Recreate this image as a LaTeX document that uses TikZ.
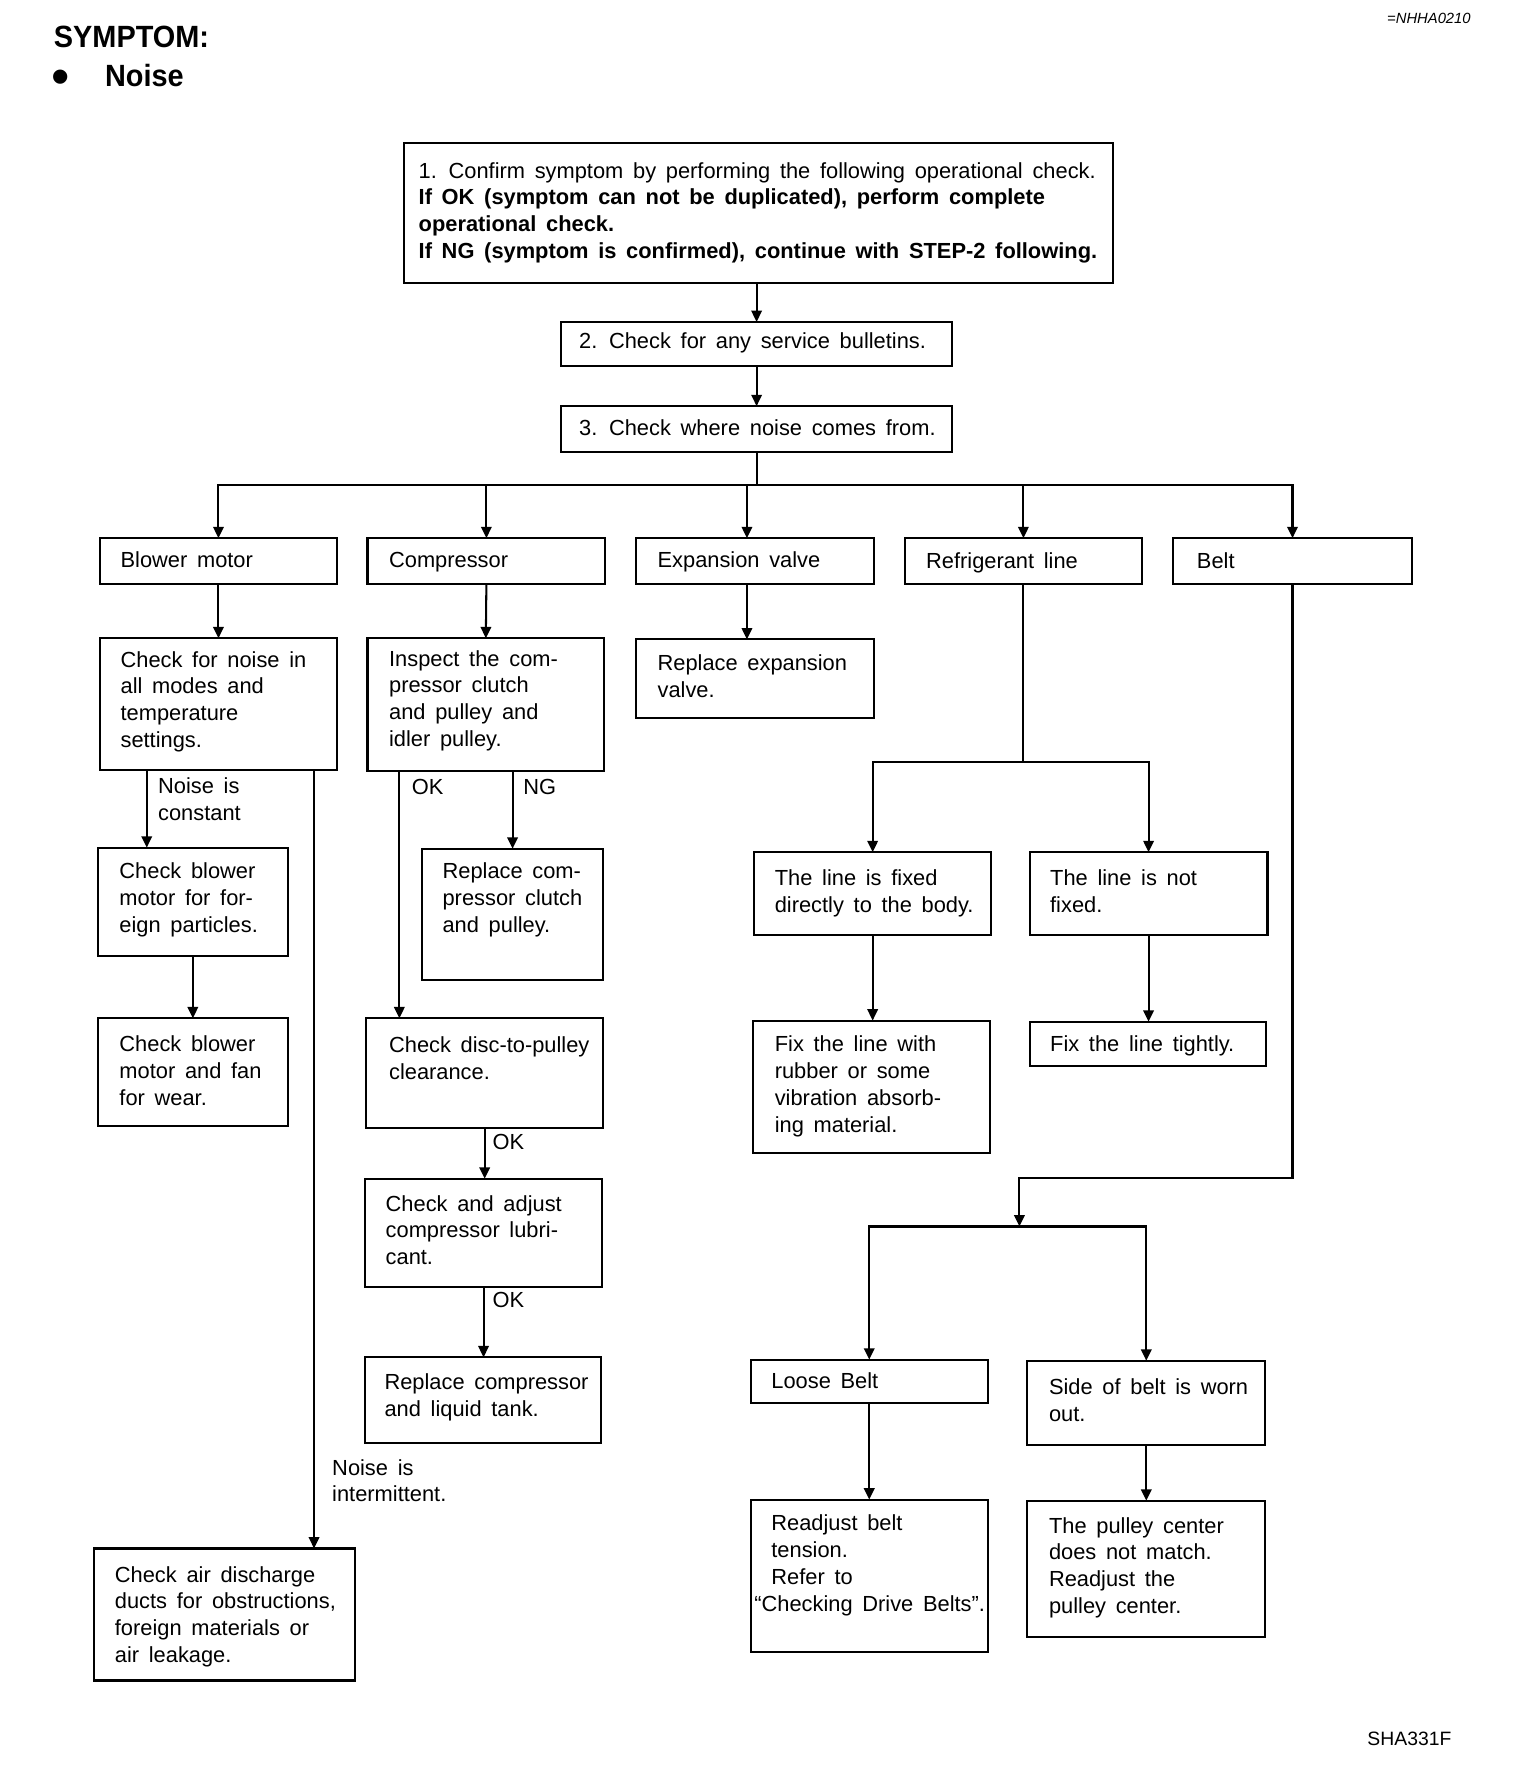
\documentclass[tikz,border=0pt]{standalone}
\usepackage{fontspec}
\setmainfont{Liberation Sans}[WordSpace=1.6]
\newfontfamily\hdfont{Liberation Sans}[FakeStretch=0.94]
\usetikzlibrary{arrows.meta,calc}
\newcommand\bodyfont{\fontsize{9.6}{11.75}\selectfont}
\tikzset{
 boxst/.style={draw, rectangle, inner sep=0pt, outer sep=0pt, line width=0.9pt},
 txt/.style={anchor=north west, inner sep=0pt, outer sep=0pt, align=left, font=\bodyfont},
 arr/.style={line width=0.9pt, -{Triangle[length=5pt,width=4.6pt]}},
 ln/.style={line width=0.9pt},
}
\newcommand\mybox[8]{%
 \node[boxst, minimum width={(#4-#2)*0.5pt}, minimum height={(#5-#3)*0.5pt}] (#1) at ({(#2+#4)/2},{(#3+#5)/2}) {};
 \node[txt] (#1t) at (#6,{#7-10}) {\strut #8};}
\newcommand\lbl[4]{\node[txt] (#1) at (#2,{#3-10}) {\strut #4};}
\begin{document}
\begin{tikzpicture}[x=0.5pt,y=-0.5pt]
\path[use as bounding box, fill=white] (0,0) rectangle (1336,1568);
% headers
\node[anchor=base west, inner sep=0pt, font=\hdfont\fontsize{13.5}{16}\selectfont\bfseries] (hd) at (47,42) {SYMPTOM:};
\node[anchor=base west, inner sep=0pt, font=\fontsize{23}{26}\selectfont] (bul) at (45,83) {•};
\node[anchor=base west, inner sep=0pt, font=\hdfont\fontsize{13.5}{16}\selectfont\bfseries] (hn) at (92,76) {Noise};
\node[anchor=base east, inner sep=0pt, font=\fontsize{6.5}{8}\selectfont\itshape] (code) at (1293,21) {=NHHA0210};
\node[anchor=base east, inner sep=0pt, font=\fontsize{8.5}{10}\selectfont] (sha) at (1276,1534) {SHA331F};
% boxes
\mybox{b1}{355}{126}{978}{249}{368}{150}{1. Confirm symptom by performing the following operational check.\\ \textbf{If OK (symptom can not be duplicated), perform complete}\\ \textbf{operational check.}\\ \textbf{If NG (symptom is confirmed), continue with STEP-2 following.}}
\mybox{b2}{493}{283}{837}{322}{509}{300}{2. Check for any service bulletins.}
\mybox{b3}{493}{357}{837}{397}{509}{376}{3. Check where noise comes from.}
\mybox{bm}{88}{473}{296}{513}{106}{492}{Blower motor}
\mybox{cp}{323}{473}{532}{513}{342}{492}{Compressor}
\mybox{ev}{559}{473}{768}{513}{578}{492}{Expansion valve}
\mybox{rl}{795}{473}{1004}{513}{814}{493}{Refrigerant line}
\mybox{bt}{1031}{473}{1241}{513}{1052}{493}{Belt}
\mybox{cn}{88}{561}{296}{677}{106}{580}{Check for noise in\\all modes and\\temperature\\settings.}
\mybox{ins}{323}{561}{531}{678}{342}{579}{Inspect the com-\\pressor clutch\\and pulley and\\idler pulley.}
\mybox{rev}{559}{562}{768}{631}{578}{583}{Replace expansion\\valve.}
\mybox{cb1}{86}{745}{253}{840}{105}{766}{Check blower\\motor for for-\\eign particles.}
\mybox{cb2}{86}{895}{253}{990}{105}{918}{Check blower\\motor and fan\\for wear.}
\mybox{rcc}{371}{746}{530}{861}{389}{766}{Replace com-\\pressor clutch\\and pulley.}
\mybox{disc}{322}{895}{530}{991}{342}{919}{Check disc-to-pulley\\clearance.}
\mybox{adj}{321}{1036}{529}{1131}{339}{1058}{Check and adjust\\compressor lubri-\\cant.}
\mybox{rct}{321}{1193}{528}{1268}{338}{1215}{Replace compressor\\and liquid tank.}
\mybox{air}{83}{1361}{312}{1477}{101}{1384}{Check air discharge\\ducts for obstructions,\\foreign materials or\\air leakage.}
\mybox{lf}{663}{749}{871}{822}{681}{772}{The line is fixed\\directly to the body.}
\mybox{lnf}{905}{749}{1114}{822}{923}{772}{The line is not\\fixed.}
\mybox{fr}{662}{897}{870}{1013}{681}{918}{Fix the line with\\rubber or some\\vibration absorb-\\ing material.}
\mybox{ft}{905}{898}{1113}{937}{923}{918}{Fix the line tightly.}
\mybox{lb}{660}{1195}{868}{1233}{678}{1214}{Loose Belt}
\mybox{sw}{903}{1196}{1112}{1270}{922}{1219}{Side of belt is worn\\out.}
\mybox{rb}{660}{1318}{868}{1452}{678}{1339}{Readjust belt\\tension.\\Refer to\\\hspace*{-7.5pt}“Checking Drive Belts”.}
\mybox{pc}{903}{1319}{1112}{1439}{922}{1341}{The pulley center\\does not match.\\Readjust the\\pulley center.}
% labels
\lbl{l1}{139}{691}{Noise is\\constant}
\lbl{l2}{292}{1290}{Noise is\\intermittent.}
\lbl{l3}{362}{692}{OK}
\lbl{l4}{460}{692}{NG}
\lbl{l5}{433}{1004}{OK}
\lbl{l6}{433}{1143}{OK}
% connectors
\draw[arr] (b1.south -| b2.north) -- (b2.north);
\draw[arr] (b2.south) -- (b3.north);
\coordinate (j) at ($(b3.south)+(0,29)$);
\draw[ln] (b3.south) -- (j);
\draw[arr] (j) -| (bm.north);
\draw[arr] (j) -| (cp.north);
\draw[arr] (j) -| ($(ev.north)+(-7,0)$);
\draw[arr] (j) -| (rl.north);
\draw[arr] (j) -| (bt.north);
\draw[arr] (bm.south) -- (cn.north);
\coordinate (cnL) at ($(cn.south west)+(41,0)$);
\draw[arr] (cnL) -- (cnL |- cb1.north);
\coordinate (cnR) at ($(cn.south west)+(188,0)$);
\draw[arr] (cnR) -- (cnR |- air.north);
\draw[arr] (cb1.south) -- (cb2.north);
\draw[arr] (cp.south) -- (ins.north);
\coordinate (insL) at ($(ins.south west)+(28,0)$);
\draw[arr] (insL) -- (insL |- disc.north);
\draw[arr] (ins.south -| rcc.north) -- (rcc.north);
\draw[arr] (disc.south) -- (disc.south |- adj.north);
\draw[arr] (adj.south) -- (adj.south |- rct.north);
\coordinate (evx) at ($(ev.south)+(-7,0)$);
\draw[arr] (evx) -- (evx |- rev.north);
\coordinate (rj) at ($(rl.south)+(0,157)$);
\draw[ln] (rl.south) -- (rj);
\draw[arr] (rj) -| (lf.north);
\draw[arr] (rj) -| (lnf.north);
\draw[arr] (lf.south) -- (lf.south |- fr.north);
\draw[arr] (lnf.south) -- (lnf.south |- ft.north);
\coordinate (bj) at ($(bt.south)+(0,522)$);
\coordinate (bk) at (896,1078);
\draw[arr] (bt.south) -- (bj) -| (bk);
\draw[arr] (bk) -| (lb.north);
\draw[arr] (bk) -| (sw.north);
\draw[arr] (lb.south) -- (lb.south |- rb.north);
\draw[arr] (sw.south) -- (sw.south |- pc.north);
\end{tikzpicture}
\end{document}
